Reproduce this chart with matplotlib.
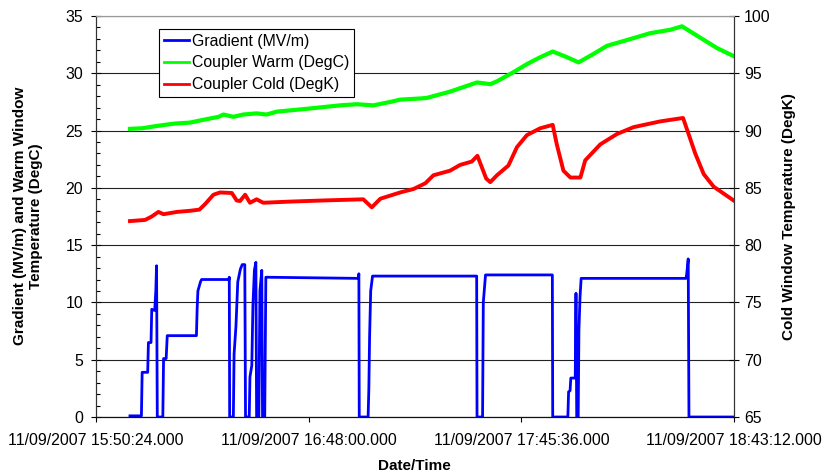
import matplotlib
matplotlib.use('Agg')
import matplotlib.pyplot as plt
from matplotlib.ticker import FixedLocator, MultipleLocator

plt.rcParams['font.family'] = ['Liberation Sans', 'DejaVu Sans']

# time axis in minutes after 11/09/2007 15:50:24
tick_minutes = [0, 57.6, 115.2, 172.8]
tick_labels = ['11/09/2007 15:50:24.000', '11/09/2007 16:48:00.000',
               '11/09/2007 17:45:36.000', '11/09/2007 18:43:12.000']

# Gradient (MV/m)
grad_t = [9.2, 12.3, 12.5, 14.0, 14.2, 14.9, 15.1, 15.9, 16.2, 16.4, 16.6,
          18.1, 18.3, 19.0, 19.3, 27.2, 27.4, 27.6, 28.3, 28.6, 36.0, 36.1, 36.2,
          37.2, 37.4, 37.9, 38.4, 39.1, 39.6, 40.3, 40.5,
          41.5, 41.7, 42.2, 42.5, 42.9, 43.3, 43.5,
          44.1, 44.4, 44.9, 45.1, 45.7, 46.0, 71.0, 71.2, 71.3,
          73.7, 73.9, 74.1, 74.4, 74.9, 103.1, 103.2,
          104.7, 104.9, 105.5, 123.6, 123.7,
          127.8, 128.0, 128.4, 128.6, 129.8, 130.0, 130.2,
          130.6, 130.8, 131.1, 131.4, 159.8, 160.0, 160.4, 160.6, 172.7]
grad_v = [0.1, 0.1, 3.9, 3.9, 6.5, 6.5, 9.4, 9.3, 11.0, 13.2, 0,
          0, 5.1, 5.1, 7.1, 7.1, 9.5, 11.0, 11.8, 12.0, 12.0, 12.2, 0,
          0, 5.5, 7.9, 11.8, 12.9, 13.3, 13.3, 0,
          0, 3.5, 4.5, 9.7, 12.8, 13.5, 0,
          0, 11.0, 12.8, 0, 0, 12.2, 12.1, 12.5, 0,
          0, 2.5, 7.0, 11.0, 12.3, 12.3, 0,
          0, 10.0, 12.4, 12.4, 0,
          0, 2.2, 2.3, 3.4, 3.4, 10.8, 0,
          0, 7.6, 10.5, 12.1, 12.1, 12.5, 13.8, 0, 0]

# Coupler Warm (DegC)
warm_t = [9.2, 12.5, 16.4, 21.0, 25.5, 30.0, 33.2, 34.5, 37.2, 39.9, 43.5,
          46.2, 48.9, 57.1, 66.1, 70.6, 75.1, 79.7, 82.4, 87.8, 89.6, 95.9,
          103.2, 106.8, 108.6, 113.1, 116.7, 120.3, 123.7, 127.6, 130.7,
          134.8, 138.4, 143.8, 150.1, 155.6, 158.7, 163.7, 168.2, 172.7]
warm_v = [25.15, 25.2, 25.4, 25.6, 25.7, 26.0, 26.2, 26.4, 26.2, 26.4, 26.5,
          26.4, 26.65, 26.9, 27.2, 27.3, 27.2, 27.5, 27.7, 27.8, 27.85, 28.4,
          29.2, 29.05, 29.3, 30.1, 30.8, 31.4, 31.9, 31.4, 30.95,
          31.7, 32.4, 32.9, 33.5, 33.8, 34.1, 33.1, 32.2, 31.5]

# Coupler Cold (DegK)
cold_t = [9.2, 13.3, 15.1, 16.9, 18.3, 21.9, 25.5, 28.0, 29.6, 31.8, 33.6,
          36.8, 38.1, 39.0, 40.4, 41.7, 43.5, 45.3, 52.5, 61.6, 72.4, 74.7,
          77.0, 82.4, 86.0, 89.2, 91.4, 95.9, 98.6, 101.8, 103.3, 105.7,
          106.8, 108.6, 111.7, 114.0, 116.7, 120.3, 123.7, 124.8, 126.6,
          128.5, 131.2, 132.5, 136.6, 141.1, 145.6, 152.8, 159.0, 160.5,
          162.3, 164.6, 167.3, 172.7]
cold_v = [82.1, 82.2, 82.5, 82.9, 82.7, 82.9, 83.0, 83.1, 83.6, 84.4, 84.6,
          84.55, 83.9, 83.85, 84.4, 83.7, 84.0, 83.7, 83.8, 83.9, 84.0, 83.3,
          84.05, 84.6, 84.9, 85.4, 86.1, 86.5, 87.0, 87.3, 87.8, 85.8,
          85.5, 86.1, 86.95, 88.55, 89.6, 90.2, 90.5, 88.8, 86.5,
          85.9, 85.9, 87.4, 88.8, 89.7, 90.3, 90.8, 91.1, 89.7,
          88.0, 86.2, 85.1, 83.9]

fig = plt.figure(figsize=(8.24, 4.75), dpi=100)
ax = fig.add_axes([96/824, 1 - 417/475, 638/824, 401/475])
ax2 = ax.twinx()

l1, = ax.plot(grad_t, grad_v, color='#0000FF', lw=2.0, label='Gradient (MV/m)')
l2, = ax.plot(warm_t, warm_v, color='#00FF00', lw=3.0, label='Coupler Warm (DegC)')
l3, = ax2.plot(cold_t, cold_v, color='#FF0000', lw=2.8, label='Coupler Cold (DegK)')

ax.set_xlim(0, 172.8)
ax.set_ylim(0, 35)
ax2.set_ylim(65, 100)

ax.xaxis.set_major_locator(FixedLocator(tick_minutes))
ax.set_xticklabels(tick_labels)
ax.yaxis.set_major_locator(MultipleLocator(5))
ax.yaxis.set_minor_locator(MultipleLocator(1))
ax2.yaxis.set_major_locator(MultipleLocator(5))

ax.tick_params(axis='x', direction='out', length=3.6, width=0.8, pad=8, labelsize=11.4)
ax.tick_params(axis='y', which='major', direction='inout', length=6.5, width=0.8,
               pad=6, labelsize=11.4)
ax.tick_params(axis='y', which='minor', direction='in', length=3, width=0.8)
ax2.tick_params(axis='y', direction='inout', length=6.5, width=0.8, pad=4, labelsize=11.4)

ax.yaxis.grid(True, which='major', color='#222222', lw=0.8)
ax.set_axisbelow(True)

for a in (ax, ax2):
    a.spines['top'].set_color('#999999')
    a.spines['left'].set_color('#333333')
    a.spines['right'].set_color('#333333')
    a.spines['bottom'].set_color('#111111')

fig.text(28/824, 1 - 216/475, 'Gradient (MV/m) and Warm Window\nTemperature (DegC)',
         rotation=90, ha='center', va='center', fontsize=11, fontweight='bold',
         multialignment='center', linespacing=1.25)
fig.text(789/824, 1 - 217/475, 'Cold Window Temperature (DegK)', rotation=90,
         ha='center', va='center', fontsize=11, fontweight='bold')
fig.text(414/824, 1 - 466/475, 'Date/Time', ha='center', va='center',
         fontsize=11, fontweight='bold')

leg = ax2.legend(handles=[l1, l2, l3], loc='upper left',
                 bbox_to_anchor=(159/824, 1 - 29/475), bbox_transform=fig.transFigure,
                 borderaxespad=0, fontsize=11.4, frameon=True, fancybox=False,
                 framealpha=1, edgecolor='black', handlelength=1.6,
                 handletextpad=0.2, labelspacing=0.42, borderpad=0.3)
leg.get_frame().set_linewidth(0.8)
for h in leg.get_lines():
    h.set_linewidth(2.0)

fig.savefig('out.png', dpi=100)
